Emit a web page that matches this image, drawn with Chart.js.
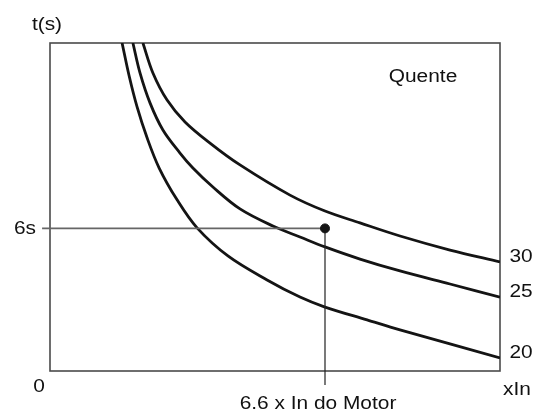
<!DOCTYPE html>
<html>
<head>
<meta charset="utf-8">
<script src="https://cdn.jsdelivr.net/npm/chart.js@4/dist/chart.umd.min.js"></script>
<style>
  html, body { margin: 0; padding: 0; background: #fff; }
  #wrap { width: 539px; height: 415px; }
</style>
</head>
<body>
<div id="wrap"><canvas id="chart" width="539" height="415"></canvas></div>
<script>
// Thermal trip curves (hot start), time in s vs multiple of In
const curve20X = [1.73, 1.90, 2.09, 2.33, 2.62, 3.05, 3.53, 4.27, 5.21, 6.0, 6.6, 7.61, 8.4, 10.8];
const curve20T = [13.8, 12.41, 11.11, 9.81, 8.54, 7.20, 6.02, 4.84, 3.83, 3.11, 2.69, 2.15, 1.73, 0.55];

const curve25X = [1.99, 2.16, 2.4, 2.71, 3.12, 3.43, 3.91, 4.56, 5.35, 6.0, 6.6, 7.44, 8.4, 9.6, 10.8];
const curve25T = [13.8, 12.54, 11.28, 10.14, 9.17, 8.54, 7.74, 6.82, 6.10, 5.64, 5.22, 4.71, 4.21, 3.66, 3.11];

const curve30X = [2.23, 2.47, 2.81, 3.24, 3.84, 4.56, 5.76, 6.6, 7.44, 8.4, 9.6, 10.8];
const curve30T = [13.8, 12.54, 11.40, 10.48, 9.59, 8.67, 7.4, 6.73, 6.23, 5.68, 5.09, 4.59];

const curveLabels = ["20", "25", "30"];

// operating point: 6.6 x In, 6 s
const opX = 6.6;
const opT = 6;

const X_MAX = 10.8;
const T_MAX = 13.8;

const yTitle = "t(s)";
const xTitle = "xIn";
const originLabel = "0";
const opTLabel = "6s";
const opXLabel = "6.6 x In do Motor";
const stateLabel = "Quente";

const INK = "#141414";
const FONT = "18px Arial, 'Liberation Sans', sans-serif";
const STRETCH = 1.16;

function toPoints(xs, ys) {
  return xs.map((x, i) => ({ x, y: ys[i] }));
}

function curveDataset(xs, ys) {
  return {
    data: toPoints(xs, ys),
    borderColor: INK,
    borderWidth: 2.8,
    pointRadius: 0,
    tension: 0.35,
    fill: false,
  };
}

function text(ctx, str, x, y, align) {
  ctx.save();
  ctx.translate(x, y);
  ctx.scale(STRETCH, 1);
  ctx.textAlign = align || "center";
  ctx.textBaseline = "middle";
  ctx.fillText(str, 0, 0);
  ctx.restore();
}

const framePlugin = {
  id: "frame",
  beforeDatasetsDraw(chart) {
    const { ctx, chartArea: a } = chart;
    ctx.save();
    ctx.strokeStyle = "#4a4a4a";
    ctx.lineWidth = 1.6;
    ctx.strokeRect(a.left, a.top, a.right - a.left, a.bottom - a.top);
    ctx.restore();
  },
  afterDraw(chart) {
    const { ctx, chartArea: a, scales } = chart;
    const sx = scales.x, sy = scales.y;
    ctx.save();
    ctx.fillStyle = "#111";
    ctx.font = FONT;
    text(ctx, yTitle, a.left - 3, a.top - 18);
    text(ctx, stateLabel, 423, 77);
    text(ctx, opTLabel, a.left - 25, sy.getPixelForValue(opT) + 1);
    text(ctx, originLabel, a.left - 11, a.bottom + 16);
    text(ctx, xTitle, a.right + 17, a.bottom + 19);
    text(ctx, opXLabel, sx.getPixelForValue(opX) - 7, a.bottom + 33);
    const ends = [curve20T, curve25T, curve30T];
    ends.forEach((ts, i) => {
      const y = sy.getPixelForValue(ts[ts.length - 1]);
      text(ctx, curveLabels[i], a.right + 21, y - 5);
    });
    ctx.restore();
  },
};

new Chart(document.getElementById("chart"), {
  type: "line",
  data: {
    datasets: [
      // operating point marker
      {
        data: [{ x: opX, y: opT }],
        showLine: false,
        pointRadius: 4.5,
        pointBackgroundColor: INK,
        pointBorderColor: INK,
      },
      // reference line from the time axis to the point
      {
        data: [{ x: -0.19, y: opT }, { x: opX, y: opT }],
        borderColor: "#666",
        borderWidth: 1.6,
        pointRadius: 0,
        clip: false,
      },
      // reference line from the point down past the current axis
      {
        data: [{ x: opX, y: opT }, { x: opX, y: -0.59 }],
        borderColor: "#222",
        borderWidth: 1.2,
        pointRadius: 0,
        clip: false,
      },
      curveDataset(curve20X, curve20T),
      curveDataset(curve25X, curve25T),
      curveDataset(curve30X, curve30T),
    ],
  },
  options: {
    responsive: false,
    animation: false,
    layout: { padding: { left: 50, top: 43, right: 39, bottom: 44 } },
    scales: {
      x: { type: "linear", min: 0, max: X_MAX, display: false },
      y: { type: "linear", min: 0, max: T_MAX, display: false },
    },
    plugins: {
      legend: { display: false },
      tooltip: { enabled: false },
    },
  },
  plugins: [framePlugin],
});
</script>
</body>
</html>
